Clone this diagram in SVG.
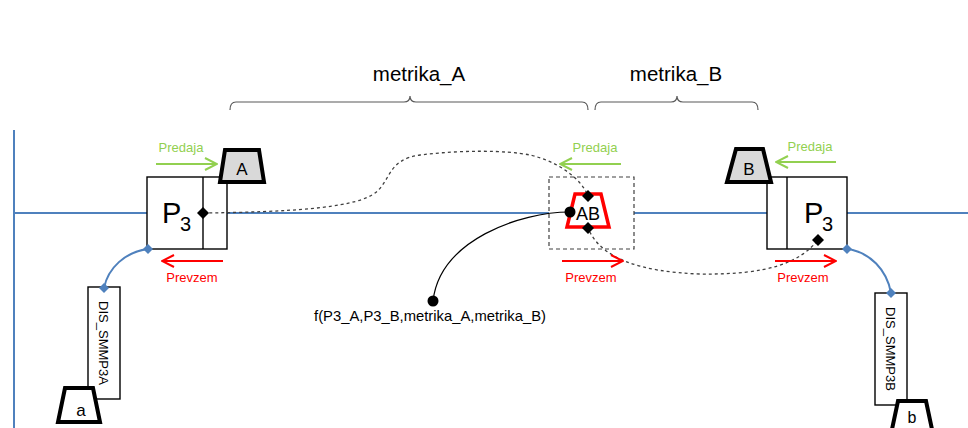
<svg xmlns="http://www.w3.org/2000/svg" width="968" height="428" viewBox="0 0 968 428">
<style>
.bus{stroke:#4f81bd;stroke-width:2;fill:none}
.box{fill:#fff;stroke:#000;stroke-width:1.4}
.trap{stroke:#000;stroke-width:4;stroke-linejoin:miter}
.lbl{font-family:"Liberation Sans",Arial,sans-serif;fill:#000}
.gr{font-family:"Liberation Sans",Arial,sans-serif;font-size:13px;fill:#92d050;text-anchor:middle}
.rd{font-family:"Liberation Sans",Arial,sans-serif;font-size:13px;fill:#ff0000;text-anchor:middle}
.garr{stroke:#92d050;stroke-width:2;fill:none;marker-end:url(#mg)}
.rarr{stroke:#ff0000;stroke-width:2;fill:none;marker-end:url(#mr)}
.brk{stroke:#595959;stroke-width:1.2;fill:none}
.dot{stroke:#404040;stroke-width:1.3;stroke-dasharray:3 3;fill:none}
.bd{fill:#4f81bd}
</style>
<defs>
<marker id="mg" viewBox="0 0 14 14" refX="13" refY="7" markerWidth="14" markerHeight="14" markerUnits="userSpaceOnUse" orient="auto"><path d="M1,1 L13,7 L1,13" fill="none" stroke="#92d050" stroke-width="2"/></marker>
<marker id="mr" viewBox="0 0 14 14" refX="13" refY="7" markerWidth="14" markerHeight="14" markerUnits="userSpaceOnUse" orient="auto"><path d="M1,1 L13,7 L1,13" fill="none" stroke="#ff0000" stroke-width="2"/></marker>
</defs>
<rect width="968" height="428" fill="#fff"/>

<g id="bus">
<path class="bus" d="M14,130 L14,428"/>
<path class="bus" d="M14,213 L147,213 M227,213 L549,213 M634,213 L767,213 M847,213 L968,213"/>
</g>

<g id="brackets">
<path class="brk" d="M230,110 Q230,102 236,102 L404,102 Q410,102 410,96 Q410,102 416,102 L582,102 Q588,102 588,110"/>
<path class="brk" d="M595,110 Q595,102 601,102 L671,102 Q677,102 677,96 Q677,102 683,102 L752,102 Q758,102 758,110"/>
<text class="lbl" x="419" y="81" font-size="20.5" text-anchor="middle">metrika_A</text>
<text class="lbl" x="676" y="81" font-size="20.5" text-anchor="middle">metrika_B</text>
</g>

<g id="P3_A">
<rect class="box" x="147" y="177" width="80" height="72"/>
<line x1="203" y1="177" x2="203" y2="249" stroke="#000" stroke-width="1.4"/>
<text class="lbl" x="162" y="223" font-size="29">P</text>
<text class="lbl" x="180" y="231" font-size="20">3</text>
</g>

<g id="P3_B">
<rect class="box" x="767" y="177" width="80" height="72"/>
<line x1="787" y1="177" x2="787" y2="249" stroke="#000" stroke-width="1.4"/>
<text class="lbl" x="804" y="223" font-size="29">P</text>
<text class="lbl" x="822" y="231" font-size="20">3</text>
</g>

<g id="A">
<polygon class="trap" points="225,150 259,150 264,182 220,182" fill="#d9d9d9"/>
<text class="lbl" x="242" y="175" font-size="17" text-anchor="middle">A</text>
</g>

<g id="B">
<polygon class="trap" points="736,149 763,149 771,182 727,182" fill="#d9d9d9"/>
<text class="lbl" x="749" y="175" font-size="17" text-anchor="middle">B</text>
</g>

<g id="DIS_SMMP3A">
<rect class="box" x="88" y="287" width="32" height="112"/>
<text class="lbl" font-size="13" text-anchor="middle" transform="translate(99,343) rotate(90)">DIS_SMMP3A</text>
</g>

<g id="DIS_SMMP3B">
<rect class="box" x="875" y="293" width="32" height="112"/>
<text class="lbl" font-size="13" text-anchor="middle" transform="translate(886,349) rotate(90)">DIS_SMMP3B</text>
</g>

<g id="a">
<polygon class="trap" points="65,388 93,388 100,422 58,422" fill="#fff"/>
<text class="lbl" x="81" y="416" font-size="17" text-anchor="middle">a</text>
</g>

<g id="b">
<polygon class="trap" points="898,401 926,401 933,434 891,434" fill="#fff"/>
<text class="lbl" x="912" y="423" font-size="16" text-anchor="middle">b</text>
</g>

<g id="AB_frame">
<rect x="549" y="177" width="85" height="72" fill="#fff" stroke="#404040" stroke-width="1.2" stroke-dasharray="4 3"/>
</g>

<g id="connectors">
<path class="dot" d="M203,213 C290,212 350,208 372,195 C392,183 385,160 420,155 C460,150 505,150 530,155 C560,162 582,180 588,196 L588,228 C600,258 640,272 700,274 C770,275 800,262 818,240"/>
<path d="M570,212 C520,212 440,240 433,301" fill="none" stroke="#000" stroke-width="1.2"/>
<path class="bus" d="M148,249 C125,252 108,268 104,288"/>
<path class="bus" d="M847,249 C870,252 887,270 891,293"/>
<path class="garr" d="M156,164 L217,164"/>
<path class="garr" d="M621,164 L560,164"/>
<path class="garr" d="M836,162 L776,162"/>
<path class="rarr" d="M223,261 L162,261"/>
<path class="rarr" d="M562,261 L623,261"/>
<path class="rarr" d="M775,261 L836,261"/>
</g>

<g id="AB">
<polygon points="575,194 601,194 609,227 567,227" fill="#fff" stroke="#ff0000" stroke-width="3.5"/>
<text class="lbl" x="588" y="220" font-size="18" text-anchor="middle">AB</text>
</g>

<g id="endpoints">
<path d="M203,207 L209,213 L203,219 L197,213 Z" fill="#000"/>
<path d="M588,190 L594,196 L588,202 L582,196 Z" fill="#000"/>
<path d="M588,222 L594,228 L588,234 L582,228 Z" fill="#000"/>
<path d="M818,234 L824,240 L818,246 L812,240 Z" fill="#000"/>
<circle cx="570" cy="212" r="5.5" fill="#000"/>
<circle cx="433" cy="301" r="5.5" fill="#000"/>
<path class="bd" d="M148,244 L153,249 L148,254 L143,249 Z"/>
<path class="bd" d="M104,283 L109,288 L104,293 L99,288 Z"/>
<path class="bd" d="M847,244 L852,249 L847,254 L842,249 Z"/>
<path class="bd" d="M891,288 L896,293 L891,298 L886,293 Z"/>
</g>

<g id="labels">
<text class="gr" x="181" y="152">Predaja</text>
<text class="gr" x="595" y="152">Predaja</text>
<text class="gr" x="810" y="151">Predaja</text>
<text class="rd" x="192" y="282">Prevzem</text>
<text class="rd" x="591" y="282">Prevzem</text>
<text class="rd" x="803" y="282">Prevzem</text>
<text class="lbl" x="430" y="321" font-size="14.8" text-anchor="middle">f(P3_A,P3_B,metrika_A,metrika_B)</text>
</g>
</svg>
